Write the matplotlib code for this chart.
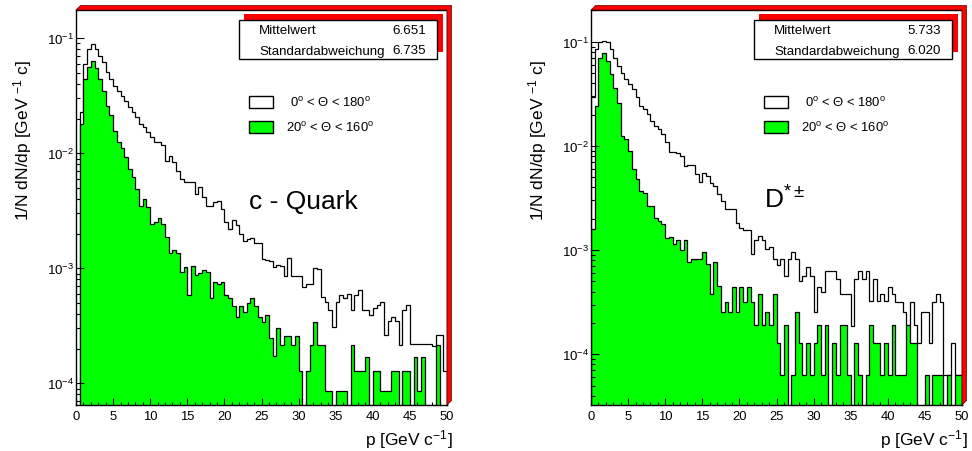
import matplotlib
matplotlib.use("Agg")
import matplotlib.pyplot as plt
from matplotlib.patches import Polygon, Rectangle
from matplotlib.ticker import MultipleLocator, LogLocator, NullFormatter
import numpy as np

plt.rcParams['font.family'] = ['Liberation Sans', 'DejaVu Sans']
plt.rcParams['mathtext.fontset'] = 'custom'
plt.rcParams['mathtext.rm'] = 'Liberation Sans'
plt.rcParams['mathtext.it'] = 'Liberation Sans:italic'
plt.rcParams['mathtext.bf'] = 'Liberation Sans:bold'

# 100 bins of 0.5 GeV between 0 and 50
p_edges = np.linspace(0, 50, 101)

# c quark, 0 < theta < 180
cquark_all = [
    0, 0.0227, 0.0598, 0.0807, 0.0893, 0.0807, 0.0706, 0.0618, 0.0506, 0.0443,
    0.0387, 0.0351, 0.0313, 0.0287, 0.0251, 0.0227, 0.0206, 0.0180, 0.0168, 0.0152,
    0.0138, 0.0126, 0.0125, 0.0117, 0.00863, 0.00955, 0.00836, 0.00706, 0.00598, 0.00560,
    0.00560, 0.00560, 0.00443, 0.00506, 0.00414, 0.00351, 0.00351, 0.00375, 0.00387, 0.00328,
    0.00251, 0.00219, 0.00263, 0.00240, 0.00200, 0.00174, 0.00178, 0.00182, 0.00166, 0.00166,
    0.00120, 0.00117, 0.00115, 0.00102, 0.00107, 0.00104, 0.000851, 0.00122, 0.000851, 0.000851,
    0.000851, 0.000692, 0.000724, 0.000724, 0.00100, 0.000977, 0.000562, 0.000513, 0.000437, 0.000309,
    0.000513, 0.000589, 0.000550, 0.000603, 0.000437, 0.000589, 0.000646, 0.000437, 0.000437, 0.000389,
    0.000447, 0.000479, 0.000513, 0.000263, 0.000347, 0.000380, 0.000347, 0.000214, 0.000437, 0.000479,
    0.000219, 0.000219, 0.000219, 0.000219, 0.000219, 0.000219, 0.000209, 0.000263, 0.000263, 0.000129,
]

# c quark, 20 < theta < 160
cquark_sel = [
    0, 0.0180, 0.0443, 0.0560, 0.0640, 0.0548, 0.0443, 0.0351, 0.0259, 0.0215,
    0.0157, 0.0126, 0.0110, 0.00923, 0.00731, 0.00618, 0.00490, 0.00351, 0.00401, 0.00339,
    0.00243, 0.00251, 0.00272, 0.00243, 0.00186, 0.00135, 0.00145, 0.00135, 0.000935, 0.00102,
    0.000586, 0.00104, 0.000875, 0.000906, 0.000968, 0.000935, 0.000548, 0.000766, 0.000726, 0.000766,
    0.000586, 0.000548, 0.000465, 0.000380, 0.000465, 0.000420, 0.000497, 0.000548, 0.000465, 0.000380,
    0.000340, 0.000393, 0.000246, 0.000171, 0.000301, 0.000215, 0.000255, 0.000255, 0.000215, 0.000255,
    0.000129, 0, 0.000129, 0.000215, 0.000340, 0.000215, 0.000215, 0.0000863, 0.0000863, 0,
    0.0000863, 0.0000863, 0.0000863, 0, 0.000215, 0.000129, 0.000129, 0.000129, 0.000168, 0,
    0.000129, 0.000129, 0.0000863, 0.0000863, 0.0000863, 0.000129, 0.000129, 0, 0.000129, 0.000129,
    0, 0.000168, 0.0000863, 0.000168, 0, 0, 0, 0.000215, 0, 0,
]

# D*+-, 0 < theta < 180
dstar_all = [
    0.0298, 0.0849, 0.100, 0.102, 0.100, 0.0849, 0.0706, 0.0587, 0.0507, 0.0438,
    0.0392, 0.0351, 0.0292, 0.0243, 0.0225, 0.0201, 0.0174, 0.0156, 0.0145, 0.0129,
    0.0108, 0.00881, 0.00881, 0.00863, 0.00802, 0.00643, 0.00652, 0.00652, 0.00535, 0.00451,
    0.00555, 0.00514, 0.00444, 0.00412, 0.00343, 0.00296, 0.00249, 0.00249, 0.00249, 0.00183,
    0.00164, 0.00155, 0.00155, 0.000923, 0.00124, 0.00138, 0.00124, 0.00103, 0.00107, 0.000826,
    0.000713, 0.000826, 0.000570, 0.000826, 0.000957, 0.000826, 0.000511, 0.000570, 0.000686, 0.000570,
    0.000257, 0.000441, 0.000394, 0.000637, 0.000637, 0.000637, 0.000530, 0.000380, 0.000380, 0.000380,
    0.000188, 0.000530, 0.000624, 0.000530, 0.000637, 0.000328, 0.000530, 0.000328, 0.000380, 0.000328,
    0.000441, 0.000380, 0.000316, 0.000316, 0.000254, 0.000191, 0.000316, 0.000191, 0.000129, 0.000254,
    0.000254, 0.000129, 0.000316, 0.000380, 0.000316, 0.0000632, 0.0000632, 0.000129, 0.0000632, 0.0000632,
]

# D*+-, 20 < theta < 160
dstar_sel = [
    0.00158, 0.0243, 0.0706, 0.0778, 0.0656, 0.0489, 0.0364, 0.0261, 0.0125, 0.0116,
    0.00895, 0.00597, 0.00478, 0.00369, 0.00356, 0.00265, 0.00265, 0.00205, 0.00190, 0.00177,
    0.00131, 0.00133, 0.00115, 0.00124, 0.000993, 0.00124, 0.000766, 0.000826, 0.000826, 0.000826,
    0.000957, 0.000738, 0.000380, 0.000766, 0.000457, 0.000254, 0.000316, 0.000254, 0.000441, 0.000254,
    0.000441, 0.000316, 0.000441, 0.000316, 0.000191, 0.000380, 0.000191, 0.000254, 0.000191, 0.000380,
    0.000129, 0.0000632, 0.000191, 0, 0.0000632, 0.000254, 0.000129, 0.0000632, 0.000129, 0.0000632,
    0.000129, 0.000191, 0.0000632, 0.000191, 0, 0.000129, 0.0000632, 0.000191, 0.000191, 0.0000632,
    0, 0.000129, 0.0000632, 0, 0.0000632, 0.000191, 0.000129, 0.000129, 0.0000632, 0.000129,
    0.0000632, 0.000191, 0.0000632, 0.0000632, 0.0000632, 0.000191, 0.000129, 0.000129, 0, 0,
    0.0000632, 0, 0.0000632, 0.0000632, 0.0000632, 0, 0.0000632, 0, 0.0000632, 0.0000632,
]

panel_titles = ["c - Quark", r"D$^{*\pm}$"]
mean_values = ["6.651", "5.733"]
std_values = ["6.735", "6.020"]
y_limits = [(6.47e-5, 0.176), (3.26e-5, 0.202)]
legend_labels = [r"0$^{\rm o}$ < Θ < 180$^{\rm o}$", r"20$^{\rm o}$ < Θ < 160$^{\rm o}$"]

W, H = 972, 452
GREEN = '#00ff00'
FLOOR = 1e-8


def fx(x):
    return x / W


def fy(y):
    return 1 - y / H


def fig_rect(fig, x0, y0, x1, y1, **kw):
    r = Rectangle((fx(x0), fy(y1)), (x1 - x0) / W, (y1 - y0) / H,
                  transform=fig.transFigure, **kw)
    fig.add_artist(r)


def draw_panel(fig, dx, all_vals, sel_vals, title, mean, std, ylim):
    # red 3d border of the frame
    pts = [(76, 11), (80.5, 6.5), (451.5, 6.5), (451.5, 401.5), (447, 406), (447, 11)]
    fig.add_artist(Polygon([(fx(x + dx), fy(y)) for x, y in pts], closed=True,
                           transform=fig.transFigure, facecolor='red',
                           edgecolor='#500000', lw=0.5))

    ax = fig.add_axes([fx(76 + dx), fy(406), 371 / W, 395 / H])

    a = np.clip(np.array(all_vals), FLOOR, None)
    s = np.clip(np.array(sel_vals), FLOOR, None)

    ax.stairs(a, p_edges, baseline=FLOOR, color='black', lw=0.9)
    ax.stairs(s, p_edges, baseline=FLOOR, fill=True, color=GREEN)
    ax.stairs(s, p_edges, baseline=FLOOR, color='black', lw=0.9)

    ax.set_yscale('log')
    ax.set_xlim(0, 50)
    ax.set_ylim(*ylim)

    ax.xaxis.set_major_locator(MultipleLocator(5))
    ax.xaxis.set_minor_locator(MultipleLocator(1))
    ax.yaxis.set_major_locator(LogLocator(base=10))
    ax.yaxis.set_minor_locator(LogLocator(base=10, subs=np.arange(2, 10)))
    ax.yaxis.set_minor_formatter(NullFormatter())

    ax.tick_params(which='both', direction='in', top=False, right=False, width=0.8)
    ax.tick_params(axis='x', which='major', length=5, labelsize=9.4, pad=3.5)
    ax.tick_params(axis='x', which='minor', length=2.5)
    ax.tick_params(axis='y', which='major', length=5.5, labelsize=9.6, pad=1.5)
    ax.tick_params(axis='y', which='minor', length=3)
    for sp in ax.spines.values():
        sp.set_linewidth(1.0)

    # stats box with red shadow
    fig_rect(fig, 244.3 + dx, 15, 442.7 + dx, 53.3, facecolor='red', edgecolor='none')
    fig_rect(fig, 239.3 + dx, 20.7, 436.7 + dx, 60, facecolor='white', edgecolor='black', lw=1)
    fig.text(fx(259.3 + dx), fy(31), "Mittelwert", fontsize=9.6, va='center', ha='left')
    fig.text(fx(426 + dx), fy(31), mean, fontsize=9.6, va='center', ha='right')
    fig.text(fx(259.3 + dx), fy(51.5), "Standardabweichung", fontsize=9.6, va='center', ha='left')
    fig.text(fx(426 + dx), fy(51.5), std, fontsize=9.6, va='center', ha='right')

    # legend
    fig_rect(fig, 249.3 + dx, 97.3, 273.3 + dx, 109.3, facecolor='white', edgecolor='black', lw=1)
    fig_rect(fig, 249.3 + dx, 121.7, 273.3 + dx, 134, facecolor=GREEN, edgecolor='black', lw=1)
    fig.text(fx(290 + dx), fy(103.3), legend_labels[0], fontsize=9.4, va='center', ha='left')
    fig.text(fx(286 + dx), fy(127.8), legend_labels[1], fontsize=9.4, va='center', ha='left')

    # big label
    fig.text(fx(249.3 + dx), fy(209), title, fontsize=19, va='baseline', ha='left')

    # axis titles
    fig.text(fx(453 + dx), fy(445), r"p [GeV c$^{-1}$]", fontsize=12.5, ha='right', va='baseline')
    fig.text(fx(23 + dx), fy(60), r"1/N dN/dp [GeV $^{-1}$ c]", fontsize=12.5,
             rotation=90, ha='center', va='top')
    return ax


def main():
    fig = plt.figure(figsize=(W / 100, H / 100), dpi=100)
    draw_panel(fig, 0, cquark_all, cquark_sel, panel_titles[0],
               mean_values[0], std_values[0], y_limits[0])
    draw_panel(fig, 515, dstar_all, dstar_sel, panel_titles[1],
               mean_values[1], std_values[1], y_limits[1])
    fig.savefig("out.png", dpi=100, facecolor='white')


main()
